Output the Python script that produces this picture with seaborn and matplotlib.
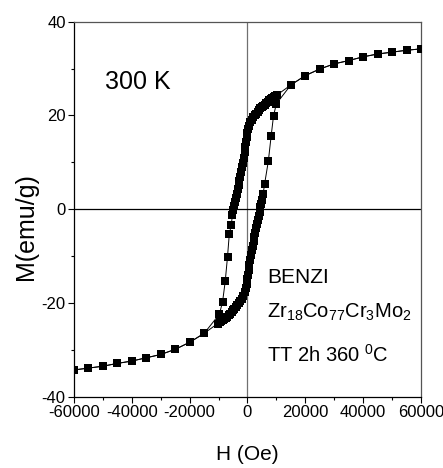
import matplotlib
matplotlib.use('Agg')
import matplotlib.pyplot as plt
import seaborn as sns

# descending branch (+60 kOe -> -60 kOe)
h_down = [60000, 55000, 50000, 45000, 40000, 35000, 30000, 25000, 20000, 15000,
          10300, 9500, 9000, 8500, 8000, 7500, 7000, 6500, 6000, 5500, 5000, 4500,
          4000, 3500, 3000, 2500, 2000, 1500, 1000, 600, 300, 0, -250, -500, -750,
          -1000, -1300, -1600, -1900, -2200, -2500, -2800, -3100, -3400, -3700,
          -4000, -4300, -4600, -4900, -5200, -5600, -6300, -6900, -7700, -8600,
          -9700, -15000, -20000, -25000, -30000, -35000, -40000, -45000, -50000,
          -55000, -60000]
m_down = [34.2, 33.9, 33.5, 33.1, 32.5, 31.7, 31.0, 29.9, 28.5, 26.5,
          24.4, 24.1, 23.9, 23.7, 23.5, 23.2, 22.9, 22.6, 22.3, 22.0, 21.8, 21.5,
          21.2, 20.8, 20.4, 20.0, 19.6, 19.1, 18.5, 17.8, 17.0, 16.3, 15.4, 14.4, 13.3,
          12.2, 11.0, 9.9, 8.9, 7.9, 6.9, 6.0, 5.1, 4.2, 3.3,
          2.4, 1.5, 0.7, -0.2, -1.2, -3.3, -5.4, -10.1, -15.4, -19.7,
          -22.4, -26.5, -28.4, -29.9, -31.0, -31.7, -32.4, -32.9, -33.5,
          -33.9, -34.3]

# ascending branch (-60 kOe -> +60 kOe)
h_up = [-60000, -55000, -50000, -45000, -40000, -35000, -30000, -25000, -20000,
        -15000, -10300, -9500, -9000, -8500, -8000, -7500, -7000, -6500, -6000,
        -5500, -5000, -4500, -4000, -3500, -3000, -2500, -2000, -1500, -1000, -600,
        -300, 0, 200, 400, 650, 900, 1200, 1500, 1800, 2100, 2400, 2700, 3000, 3300,
        3600, 3900, 4200, 4500, 4800, 5100, 5400, 5900, 7200, 8200, 9000, 10000,
        15000, 20000, 25000, 30000, 35000, 40000, 45000, 50000, 55000, 60000]
m_up = [-34.3, -33.9, -33.5, -32.9, -32.4, -31.7, -31.0, -29.9, -28.4,
        -26.5, -24.4, -24.1, -23.9, -23.7, -23.5, -23.2, -22.9, -22.6, -22.3,
        -22.0, -21.6, -21.3, -20.9, -20.5, -20.1, -19.6, -19.1, -18.5, -17.7, -16.9,
        -16.0, -15.0, -14.0, -13.0, -11.9, -10.9, -9.8, -8.8, -7.8, -6.8, -5.9, -5.0, -4.1, -3.2,
        -2.3, -1.4, -0.5, 0.4, 1.2, 2.0, 3.2, 5.3, 10.2, 15.7, 19.9, 22.5,
        26.5, 28.5, 29.9, 31.0, 31.7, 32.5, 33.1, 33.5, 33.9, 34.2]

x_ticks = [-60000, -40000, -20000, 0, 20000, 40000, 60000]
y_ticks = [-40, -20, 0, 20, 40]

sns.set_style('ticks')
plt.rcParams['font.family'] = ['Liberation Sans', 'DejaVu Sans']
plt.rcParams['mathtext.fontset'] = 'custom'
plt.rcParams['mathtext.rm'] = 'Liberation Sans'
plt.rcParams['mathtext.it'] = 'Liberation Sans'
plt.rcParams['axes.unicode_minus'] = False
plt.rcParams['text.color'] = 'black'
plt.rcParams['axes.labelcolor'] = 'black'
plt.rcParams['xtick.color'] = 'black'
plt.rcParams['ytick.color'] = 'black'

fig = plt.figure(figsize=(4.43, 4.68), dpi=100)
ax = fig.add_axes([0.167, 0.1524, 0.7833, 0.8013])

#zero lines behind the data
ax.axvline(0, color='#707070', lw=0.9, zorder=1)
ax.axhline(0, color='black', lw=0.9, zorder=1)

for hh, mm in [(h_down, m_down), (h_up, m_up)]:
    sns.lineplot(x=hh, y=mm, sort=False, ax=ax, color='black', lw=0.7,
                 marker='s', markersize=5.5, markeredgewidth=0,
                 markerfacecolor='black', zorder=3)

ax.set_xlim(-60000, 60000)
ax.set_ylim(-40, 40)
ax.set_xticks(x_ticks)
ax.set_yticks(y_ticks)
ax.set_xticks(range(-50000, 60000, 20000), minor=True)
ax.set_yticks([-30, -10, 10, 30], minor=True)
ax.tick_params(which='major', direction='out', length=4, width=0.8, labelsize=12, pad=2)
ax.tick_params(which='minor', direction='out', length=2.5, width=0.8)

for side in ['left', 'bottom']:
    ax.spines[side].set_color('black')
    ax.spines[side].set_linewidth(0.9)
for side in ['top', 'right']:
    ax.spines[side].set_visible(True)
    ax.spines[side].set_color('#555555')
    ax.spines[side].set_linewidth(0.9)

ax.set_xlabel('H (Oe)', fontsize=15)
ax.set_ylabel('M(emu/g)', fontsize=18)
ax.xaxis.set_label_coords(0.5, -0.129)
ax.yaxis.set_label_coords(-0.105, 0.454)

ax.text(-49400, 25.6, '300 K', fontsize=18, va='baseline')
ax.text(6900, -15.7, 'BENZI', fontsize=15, va='baseline')
ax.text(6900, -23.2, 'Zr$_{18}$Co$_{77}$Cr$_3$Mo$_2$', fontsize=14.5, va='baseline')
ax.text(6900, -32.5, 'TT 2h 360 $^0$C', fontsize=14.5, va='baseline')

fig.savefig('out.png', dpi=100)
